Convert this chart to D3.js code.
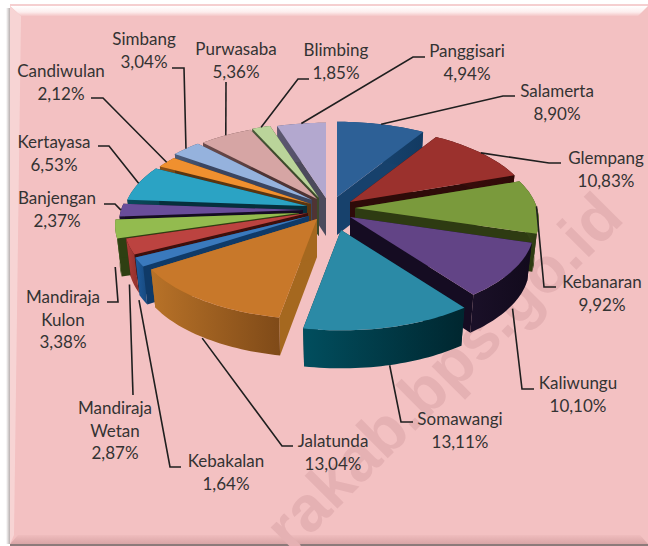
<!DOCTYPE html>
<html>
<head>
<meta charset="utf-8">
<script src="https://cdn.jsdelivr.net/npm/d3@7/dist/d3.min.js"></script>
<style>
html,body{margin:0;padding:0;background:#fff;overflow:hidden}
svg{display:block}
text{font-family:Lato,"Open Sans",sans-serif}
</style>
</head>
<body>
<script>
// ---- data ----
const categories = ["Salamerta","Glempang","Kebanaran","Kaliwungu","Somawangi","Jalatunda","Kebakalan","Mandiraja Wetan","Mandiraja Kulon","Banjengan","Kertayasa","Candiwulan","Simbang","Purwasaba","Blimbing","Panggisari"];
const shares = [8.90,10.83,9.92,10.10,13.11,13.04,1.64,2.87,3.38,2.37,6.53,2.12,3.04,5.36,1.85,4.94];
const watermark = "rakab.bps.go.id";

// ---- styles ----
const topColors  = ["#2d6096","#9b312d","#7a9a3c","#624486","#2b8aa6","#c8782a","#3a79bd","#bc4340","#93bb4f","#694d9a","#2ba3c4","#f0902f","#95b2dd","#d6a5a4","#bad49a","#b3a8cf"];
const wallLeft   = ["#1c4a78","#3d0e0c","#3c4c1a","#1a1028","#014e5e","#b87228","#1f5c9e","#b03c38","#41591f","#1c1030","#0a4a5c","#8a5018","#4a5a78","#6a4a4a","#4a5a3a","#5c5870"];
const wallRight  = ["#123a62","#300a08","#2c3a12","#120a1c","#00262f","#7f4a18","#17497e","#8e2f2c","#37501b","#150c24","#08404f","#7a4714","#3e4c68","#5a3e3e","#3e4e30","#4c4860"];
const sideColors = ["#17416c","#2e0b09","#2e3b12","#150c22","#00303a","#a5681f","#0f3a68","#3d0f0c","#2e3f12","#150c22","#062f3c","#5a3510","#3a4560","#4f3434","#3d4a2c","#4c4a5c"];
// painter's order, back to front
const drawOrder = [15,14,13,12,11,10,9,8,7,0,1,2,3,6,5,4];

// ---- layout ----
const W = 648, H = 546;
const pieCenter = [328, 207];
// explosion of each slice from the pie centre, in pixels
const explodeX = [9,22,27,22,13,-11,-19,-20,-29,-25,-21,-17,-16,-11,-9,-2];
const explodeY = [-10,-5,1,10,23,12,9,6,6,3,-1,-3,-7,-8,-9,-9];
const sliceDepth = 38, depthShrink = 0.975;
const planeX = 182, planeY = 86, tilt = 0.143;
const project = a => { // pie-plane angle -> screen offset
  const u = Math.sin(a), v = -Math.cos(a), w = 1 - tilt * v;
  return [planeX * u / w, planeY * v / w, v];
};
const labelX = [557,606,602,578,460,333,226,115,63,57,54,61,144,236,336,467];
const labelY = [91,158,282,383,419,441,461,408,297,198,142,71,39,49,50,51];
// leader: [text-side end, elbow]
const leaderEnd = [[515,96],[561,163],[556,287],[534,389],[413,422],[293,446],[181,467],[133,395],[107,302],[104,204],[98,146],[91,98],[172,68],[226,82],[309,79],[425,57]];
const leaderElbow = [[503,96],[549,163],[544,287],[522,389],[401,422],[282,446],[170,467],[133,395],[118,302],[115,204],[109,146],[103,98],[184,68],[226,82],[298,79],[413,57]];
const fontSize = 17, lineGap = 22.5;

const pct = d3.formatLocale({decimal:",",thousands:".",grouping:[3],currency:["",""]}).format(".2f");

const svg = d3.select("body").append("svg").attr("width",W).attr("height",H);
const defs = svg.append("defs");

// ---- panel with bevel ----
const grad = (id,x2,y2,stops)=>{
  const g = defs.append("linearGradient").attr("id",id).attr("x1",0).attr("y1",0).attr("x2",x2).attr("y2",y2);
  stops.forEach(s=>g.append("stop").attr("offset",s[0]).attr("stop-color",s[1]));
};
grad("bevelTop",0,1,[[0,"#ffffff"],[0.6,"#fdeeee"],[1,"#f4c6c7"]]);
grad("bevelBot",0,1,[[0,"#efbcbd"],[1,"#d9a5a6"]]);
grad("shadeL",1,0,[[0,"#ffffff"],[1,"#a59a9a"]]);
svg.append("rect").attr("x",6).attr("y",8).attr("width",5).attr("height",536).attr("fill","url(#shadeL)");
svg.append("rect").attr("x",10).attr("y",5).attr("width",638).attr("height",539).attr("fill","#f3c1c2");
svg.append("rect").attr("x",10).attr("y",544).attr("width",638).attr("height",2).attr("fill","#8c7a7a");
svg.append("rect").attr("x",10).attr("y",4).attr("width",638).attr("height",2).attr("fill","#f5cfd0");
svg.append("path").attr("d",d3.line()([[10,6],[648,6],[638,16],[21,16]])).attr("fill","url(#bevelTop)");
svg.append("path").attr("d",d3.line()([[10,544],[648,544],[640,535],[18,535]])).attr("fill","url(#bevelBot)");
svg.append("path").attr("d",d3.line()([[10,6],[21,16],[14,535],[10,544]])).attr("fill","#f7d4d4");

// ---- watermark ----
svg.append("text").attr("transform","translate(626,220) rotate(-45)")
  .attr("text-anchor","end").attr("font-size",64).attr("font-weight",700)
  .attr("fill","#e5b1b3").style("font-family","'Liberation Sans',Arial,sans-serif")
  .text(watermark);

// ---- pie slices ----
const pie = d3.pie().sort(null).value(d=>d).startAngle(0).endAngle(2*Math.PI);
const arcs = pie(shares);
const line = d3.line();
arcs.forEach((a,i)=>{
  const g = defs.append("linearGradient").attr("id","wall"+i).attr("x1",0).attr("x2",1).attr("y1",0).attr("y2",0);
  g.append("stop").attr("offset",0).attr("stop-color",wallLeft[i]);
  g.append("stop").attr("offset",1).attr("stop-color",wallRight[i]);
});
const geometry = arcs.map((a,i)=>{
  const apex = [pieCenter[0]+explodeX[i], pieCenter[1]+explodeY[i]];
  const n = Math.max(6, Math.ceil((a.endAngle-a.startAngle)*40));
  const rim = d3.range(n+1).map(k=>{
    const p = project(a.startAngle+(a.endAngle-a.startAngle)*k/n);
    return [apex[0]+p[0], apex[1]+p[1]];
  });
  const drop = p=>[apex[0]+(p[0]-apex[0])*depthShrink, p[1]+sliceDepth];
  const mid = project((a.startAngle+a.endAngle)/2);
  const anchor = [apex[0]+mid[0], apex[1]+mid[1]+(mid[2]>0.1?sliceDepth:0)];
  return {apex,rim,drop,anchor};
});
const slices = svg.append("g").selectAll("g").data(drawOrder).join("g");
slices.each(function(i){
  const g = d3.select(this), s = geometry[i], first = s.rim[0], last = s.rim[s.rim.length-1];
  const apexLow = [s.apex[0], s.apex[1]+sliceDepth];
  g.append("path").attr("d",line([s.apex,first,s.drop(first),apexLow])+"Z").attr("fill",sideColors[i]);
  g.append("path").attr("d",line([s.apex,last,s.drop(last),apexLow])+"Z").attr("fill",sideColors[i]);
  g.append("path").attr("d",line(s.rim.concat(s.rim.map(s.drop).reverse()))+"Z").attr("fill",`url(#wall${i})`);
  g.append("path").attr("d",line([s.apex].concat(s.rim))+"Z").attr("fill",topColors[i]);
});

// ---- leaders ----
svg.append("g").selectAll("path").data(categories).join("path")
  .attr("d",(d,i)=>line([leaderEnd[i],leaderElbow[i],geometry[i].anchor]))
  .attr("fill","none").attr("stroke","#1f1f1f").attr("stroke-width",1.6);

// ---- labels ----
const labels = svg.append("g").selectAll("text").data(categories).join("text")
  .attr("text-anchor","middle").attr("font-size",fontSize).attr("fill","#333");
labels.each(function(d,i){
  const lines = d.startsWith("Mandiraja") ? d.split(" ") : [d];
  lines.push(pct(shares[i])+"%");
  d3.select(this).selectAll("tspan").data(lines).join("tspan")
    .attr("x",labelX[i]).attr("y",(l,k)=>labelY[i]+6+k*lineGap).text(l=>l);
});
</script>
</body>
</html>
